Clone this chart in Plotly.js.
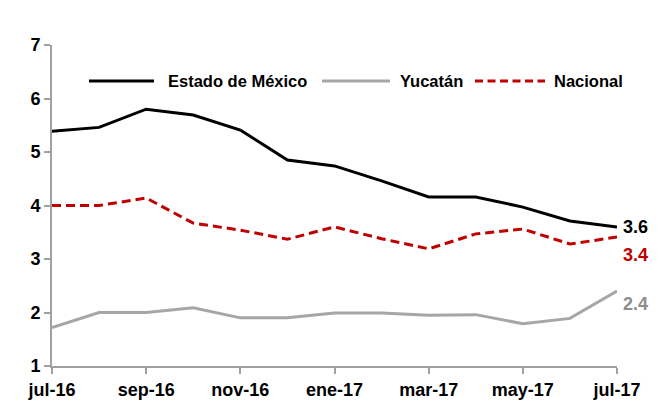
<!DOCTYPE html>
<html>
<head>
<meta charset="utf-8">
<script src="https://cdn.plot.ly/plotly-3.0.1.min.js"></script>
<style>html,body{margin:0;padding:0;background:#fff;}#chart{width:659px;height:405px;}</style>
</head>
<body>
<div id="chart"></div>
<script>
const months = ["jul-16","ago-16","sep-16","oct-16","nov-16","dic-16","ene-17","feb-17","mar-17","abr-17","may-17","jun-17","jul-17"];
const tickLabels = ["jul-16","sep-16","nov-16","ene-17","mar-17","may-17","jul-17"];
const seriesNames = ["Estado de México", "Yucatán", "Nacional"];
const estadoMexico = [5.39, 5.46, 5.80, 5.69, 5.41, 4.85, 4.74, 4.46, 4.16, 4.16, 3.97, 3.71, 3.60];
const yucatan = [1.72, 2.00, 2.00, 2.09, 1.90, 1.90, 1.99, 1.99, 1.95, 1.96, 1.79, 1.89, 2.40];
const nacional = [4.00, 4.00, 4.14, 3.67, 3.54, 3.37, 3.60, 3.38, 3.19, 3.47, 3.56, 3.28, 3.41];

const FONT = "'Liberation Sans', Arial, sans-serif";
const RED = "#c00000", GRAY = "#a6a6a6", DGRAY = "#8c8c8c";
const DASH = "9px,5px";
const styles = [
  {color: "#000000", width: 3, dash: "solid"},
  {color: GRAY, width: 3, dash: "solid"},
  {color: RED, width: 3, dash: DASH}
];
const allSeries = [estadoMexico, yucatan, nacional];

const traces = allSeries.map((ys, i) => ({
  x: months, y: ys, name: seriesNames[i], mode: "lines", line: styles[i], showlegend: false
}));

// legend drawn as shapes + text (line length matches the original)
const legendPos = [
  {x0: 0.0655, x1: 0.1805, tx: 0.2018},
  {x0: 0.4779, x1: 0.5982, tx: 0.6124},
  {x0: 0.7487, x1: 0.8726, tx: 0.8850}
];
const legY = 0.888;
const shapes = legendPos.map((p, i) => ({
  type: "line", xref: "paper", yref: "paper", x0: p.x0, x1: p.x1, y0: legY, y1: legY,
  line: {color: styles[i].color, width: 3, dash: i === 2 ? "8px,4.5px" : "solid"}
}));
const last = months.length - 1;
const annotations = legendPos.map((p, i) => ({
  xref: "paper", yref: "paper", x: p.tx, y: legY, xanchor: "left", yanchor: "middle",
  text: seriesNames[i], showarrow: false,
  font: {family: FONT, size: 16.5, color: "#000", weight: "bold"}
})).concat([
  {x: months[last], y: estadoMexico[last], text: estadoMexico[last].toFixed(1), showarrow: false, xanchor: "left", xshift: 4, yshift: 0,
   font: {family: FONT, size: 18, color: "#000", weight: "bold"}},
  {x: months[last], y: nacional[last], text: nacional[last].toFixed(1), showarrow: false, xanchor: "left", xshift: 4, yshift: -18,
   font: {family: FONT, size: 18, color: RED, weight: "bold"}},
  {x: months[last], y: yucatan[last], text: yucatan[last].toFixed(1), showarrow: false, xanchor: "left", xshift: 4, yshift: -13,
   font: {family: FONT, size: 18, color: DGRAY, weight: "bold"}}
]);

const layout = {
  width: 659, height: 405,
  margin: {l: 52, r: 42, t: 45, b: 39},
  paper_bgcolor: "#fff", plot_bgcolor: "#fff",
  font: {family: FONT, size: 18, color: "#000"},
  showlegend: false,
  xaxis: {type: "category", categoryorder: "array", categoryarray: months,
          range: [0, last], tickvals: tickLabels, ticktext: tickLabels,
          showgrid: false, zeroline: false, showline: true, linecolor: "#a0a0a0", linewidth: 2,
          ticks: "outside", ticklen: 6, tickcolor: "#a0a0a0", tickwidth: 2,
          tickfont: {family: FONT, size: 18, color: "#000", weight: "bold"}},
  yaxis: {range: [1, 7], dtick: 1, showgrid: false, zeroline: false, showline: true,
          linecolor: "#a0a0a0", linewidth: 2, ticks: "outside", ticklen: 6, tickcolor: "#a0a0a0", tickwidth: 2,
          tickfont: {family: FONT, size: 18, color: "#000", weight: "bold"}},
  shapes: shapes,
  annotations: annotations
};
Plotly.newPlot("chart", traces, layout, {displayModeBar: false, staticPlot: true});
</script>
</body>
</html>
